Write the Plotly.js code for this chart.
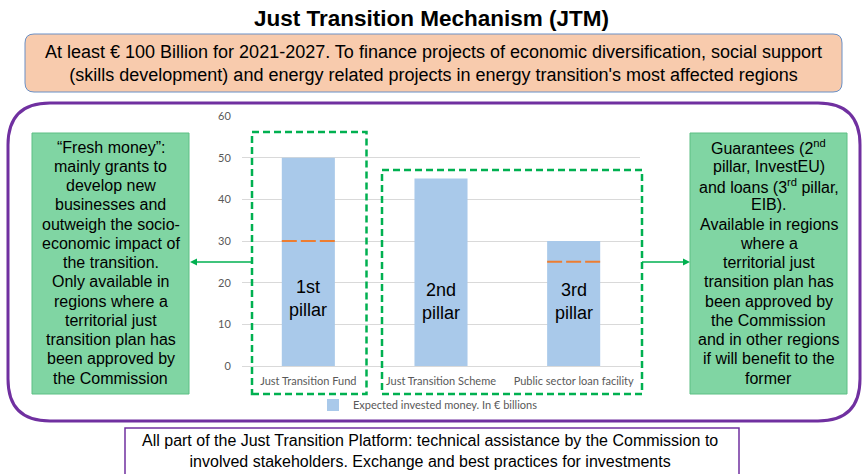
<!DOCTYPE html>
<html>
<head>
<meta charset="utf-8">
<script src="https://cdn.plot.ly/plotly-3.0.1.min.js"></script>
<style>
html,body{margin:0;padding:0;background:#fff;}
#chart{width:863px;height:474px;}
</style>
</head>
<body>
<div id="chart"></div>
<script>
// ---- data ----
const categories = ['Just Transition Fund', 'Just Transition Scheme', 'Public sector loan facility'];
const investedValues = [50, 45, 30];
const markerValues = [30, null, 25];
const pillarLabels = ['1st<br>pillar', '2nd<br>pillar', '3rd<br>pillar'];
const yTicks = [0, 10, 20, 30, 40, 50, 60];
const seriesName = 'Expected invested money. In € billions';

const leftLines = ['“Fresh money”:', 'mainly grants to', 'develop new', 'businesses and', 'outweigh the socio-',
  'economic impact of', 'the transition.', 'Only available in', 'regions where a', 'territorial just',
  'transition plan has', 'been approved by', 'the Commission'];
const rightLines = ['Guarantees (2<sup>nd</sup>', 'pillar, InvestEU)', 'and loans (3<sup>rd</sup> pillar,', 'EIB).',
  'Available in regions', 'where a', 'territorial just', 'transition plan has', 'been approved by',
  'the Commission', 'and in other regions', 'if will benefit to the', 'former'];

// ---- layout helpers (pixel -> paper) ----
const L = 242, R = 640, T = 116, B = 366;
const px = x => (x - L) / (R - L);
const py = y => (B - y) / (B - T);
function rrect(x0, y0, x1, y1, r) {
  const P = (x, y) => px(x) + ',' + py(y);
  return 'M' + P(x0 + r, y0) + ' L' + P(x1 - r, y0) + ' Q' + P(x1, y0) + ' ' + P(x1, y0 + r) +
    ' L' + P(x1, y1 - r) + ' Q' + P(x1, y1) + ' ' + P(x1 - r, y1) +
    ' L' + P(x0 + r, y1) + ' Q' + P(x0, y1) + ' ' + P(x0, y1 - r) +
    ' L' + P(x0, y0 + r) + ' Q' + P(x0, y0) + ' ' + P(x0 + r, y0) + ' Z';
}
function tri(xTip, y, dir) {
  const P = (x, yy) => px(x) + ',' + py(yy);
  const b = xTip - dir * 7;
  return 'M' + P(xTip, y) + ' L' + P(b, y - 3.5) + ' L' + P(b, y + 3.5) + ' Z';
}
const ARIAL = 'Liberation Sans, Arial, sans-serif';
const CHARTFONT = 'Lato, Carlito, Calibri, sans-serif';
const GREEN = '#00B050';

const barTrace = {
  type: 'bar',
  x: categories,
  y: investedValues,
  name: seriesName,
  marker: {color: '#A9C9EA'},
  showlegend: true,
  hoverinfo: 'none'
};

const shapes = [];
// orange sub-markers on bars
markerValues.forEach((v, i) => {
  if (v === null) return;
  shapes.push({type: 'line', xref: 'x', yref: 'y', x0: i - 0.2, x1: i + 0.2, y0: v, y1: v,
    line: {color: '#ED7D31', width: 2, dash: '15px,4px'}});
});
// green dashed grouping boxes
shapes.push({type: 'rect', xref: 'paper', yref: 'paper', x0: px(252), x1: px(366.5), y0: py(394), y1: py(132),
  line: {color: GREEN, width: 2.5, dash: '7px,4px'}});
shapes.push({type: 'rect', xref: 'paper', yref: 'paper', x0: px(382), x1: px(642), y0: py(394), y1: py(170),
  line: {color: GREEN, width: 2.5, dash: '7px,4px'}});
// purple rounded frame
shapes.push({type: 'path', xref: 'paper', yref: 'paper', path: rrect(8, 103, 860, 421, 42),
  line: {color: '#7030A0', width: 3}});
// orange top box
shapes.push({type: 'path', xref: 'paper', yref: 'paper', path: rrect(25, 34, 842, 92, 9),
  fillcolor: '#F8CBAD', line: {color: '#6A8FC4', width: 1}});
// green side boxes
shapes.push({type: 'rect', xref: 'paper', yref: 'paper', x0: px(32), x1: px(189), y0: py(394), y1: py(133),
  fillcolor: '#80D5A3', line: {color: '#5DBF84', width: 1}});
shapes.push({type: 'rect', xref: 'paper', yref: 'paper', x0: px(690), x1: px(847), y0: py(394), y1: py(133),
  fillcolor: '#80D5A3', line: {color: '#5DBF84', width: 1}});
// bottom box
shapes.push({type: 'rect', xref: 'paper', yref: 'paper', x0: px(125), x1: px(739), y0: py(476), y1: py(428),
  fillcolor: '#FFFFFF', line: {color: '#7030A0', width: 1.5}});
// connector arrows
shapes.push({type: 'line', xref: 'paper', yref: 'paper', x0: px(252), x1: px(196), y0: py(262), y1: py(262),
  line: {color: GREEN, width: 1.5}});
shapes.push({type: 'path', xref: 'paper', yref: 'paper', path: tri(190, 262, -1), fillcolor: GREEN, line: {width: 0}});
shapes.push({type: 'line', xref: 'paper', yref: 'paper', x0: px(642), x1: px(684), y0: py(262), y1: py(262),
  line: {color: GREEN, width: 1.5}});
shapes.push({type: 'path', xref: 'paper', yref: 'paper', path: tri(690, 262, 1), fillcolor: GREEN, line: {width: 0}});

const annotations = [];
// pillar labels
pillarLabels.forEach((t, i) => {
  annotations.push({xref: 'x', yref: 'y', x: i, y: i === 0 ? 16.1 : 15.4, text: t, showarrow: false,
    font: {family: ARIAL, size: 18, color: '#000'}, xanchor: 'center', yanchor: 'middle'});
});
// title
annotations.push({xref: 'paper', yref: 'paper', x: px(431), y: py(18), text: '<b>Just Transition Mechanism (JTM)</b>',
  showarrow: false, font: {family: ARIAL, size: 22.5, color: '#000'}, xanchor: 'center', yanchor: 'middle'});
// top text
annotations.push({xref: 'paper', yref: 'paper', x: px(433), y: py(63),
  text: 'At least € 100 Billion for 2021-2027. To finance projects of economic diversification, social support<br>(skills development) and energy related projects in energy transition\'s most affected regions',
  showarrow: false, font: {family: ARIAL, size: 18, color: '#000'}, xanchor: 'center', yanchor: 'middle', align: 'center'});
// side box texts, one annotation per line
leftLines.forEach((t, i) => {
  annotations.push({xref: 'paper', yref: 'paper', x: px(110.5), y: py(147 + i * 19.25), text: t,
    showarrow: false, font: {family: ARIAL, size: 16, color: '#000'}, xanchor: 'center', yanchor: 'middle'});
});
rightLines.forEach((t, i) => {
  annotations.push({xref: 'paper', yref: 'paper', x: px(768.5), y: py(147 + i * 19.25), text: t,
    showarrow: false, font: {family: ARIAL, size: 16, color: '#000'}, xanchor: 'center', yanchor: 'middle'});
});
// bottom text
annotations.push({xref: 'paper', yref: 'paper', x: px(430), y: py(450.5),
  text: 'All part of the Just Transition Platform: technical assistance by the Commission to<br>involved stakeholders. Exchange and best practices for investments',
  showarrow: false, font: {family: ARIAL, size: 16, color: '#000'}, xanchor: 'center', yanchor: 'middle', align: 'center'});

const layout = {
  width: 863, height: 474,
  margin: {l: L, r: 863 - R, t: T, b: 474 - B, pad: 0},
  paper_bgcolor: '#fff', plot_bgcolor: '#fff',
  bargap: 0.6,
  showlegend: true,
  legend: {orientation: 'h', x: px(428), xanchor: 'center', y: py(405), yanchor: 'middle',
    font: {family: CHARTFONT, size: 11, color: '#595959'}, bgcolor: 'rgba(0,0,0,0)'},
  xaxis: {type: 'category', showgrid: false, showline: false, zeroline: false,
    ticks: 'outside', ticklen: 5, tickcolor: 'rgba(0,0,0,0)',
    tickfont: {family: CHARTFONT, size: 11, color: '#595959'}, fixedrange: true},
  yaxis: {range: [0, 60], tickvals: yTicks, showgrid: true, gridcolor: '#D9D9D9', gridwidth: 1,
    zeroline: true, zerolinecolor: '#D9D9D9', zerolinewidth: 1, showline: false,
    ticks: 'outside', ticklen: 8, tickcolor: 'rgba(0,0,0,0)',
    tickfont: {family: CHARTFONT, size: 11, color: '#595959'}, fixedrange: true},
  shapes: shapes,
  annotations: annotations
};

Plotly.newPlot('chart', [barTrace], layout, {displayModeBar: false, staticPlot: true});
</script>
</body>
</html>
